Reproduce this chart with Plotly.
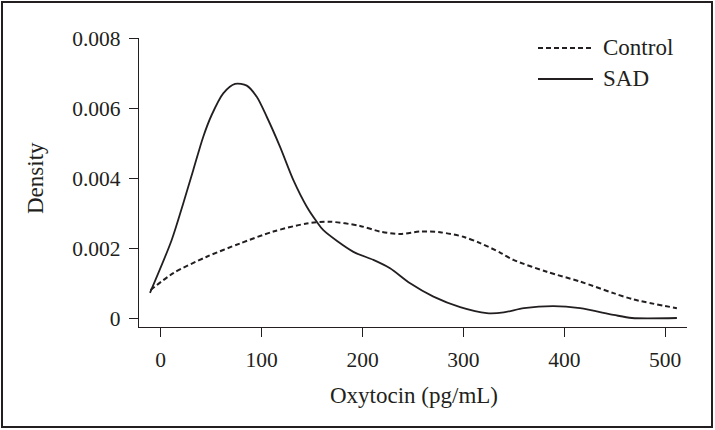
import plotly.graph_objects as go

# ---- data ----
sad_x = [-10.6, 10.9, 22.4, 32.3, 42.2, 50.5, 62.0, 73.7, 85.3, 95.2, 105.1, 118.3,
         131.5, 144.8, 154.7, 161.2, 191.0, 210.8, 227.3, 247.2, 270.3, 296.8,
         323.2, 340.0, 360.0, 389.3, 415.7, 448.8, 467.0, 511.6]
sad_y = [0.00072, 0.00223, 0.00328, 0.00423, 0.00518, 0.00580, 0.00642, 0.00669,
         0.00664, 0.00632, 0.00575, 0.00489, 0.00394, 0.00318, 0.00275, 0.00251,
         0.00189, 0.00166, 0.00142, 0.00099, 0.00061, 0.00031, 0.00014, 0.00016,
         0.00028, 0.00034, 0.00028, 0.00009, 0.0, 0.0]

ctrl_x = [-10.0, 12.5, 45.6, 78.6, 111.6, 144.8, 167.9, 197.6, 217.4, 237.3,
          257.1, 276.9, 300.0, 316.6, 336.4, 349.6, 382.7, 415.7, 448.8, 468.6, 511.6]
ctrl_y = [0.00080, 0.00128, 0.00175, 0.00213, 0.00247, 0.00270, 0.00275, 0.00263,
          0.00247, 0.00240, 0.00247, 0.00245, 0.00232, 0.00214, 0.00187, 0.00166,
          0.00132, 0.00104, 0.00071, 0.00053, 0.00028]

x_ticks = [0, 100, 200, 300, 400, 500]
y_ticks = [0, 0.002, 0.004, 0.006, 0.008]
y_tick_labels = ["0", "0.002", "0.004", "0.006", "0.008"]
series_names = ["Control", "SAD"]

# ---- layout geometry (pixels) ----
W, H = 715, 430
L, R, T, B = 139, 687, 38, 327
FONT = "Liberation Serif, Times New Roman, serif"
INK = "#231f20"
TXT = 23


def px(x):
    return (x - L) / (R - L)


def py(y):
    return (B - y) / (B - T)


fig = go.Figure()
fig.add_trace(go.Scatter(x=ctrl_x, y=ctrl_y, mode="lines", name=series_names[0],
                         line=dict(color=INK, width=2, dash="5px,3px", shape="spline",
                                   smoothing=0.8),
                         showlegend=False))
fig.add_trace(go.Scatter(x=sad_x, y=sad_y, mode="lines", name=series_names[1],
                         line=dict(color=INK, width=1.8, shape="spline", smoothing=0.8),
                         showlegend=False))

fig.update_layout(
    width=W, height=H,
    margin=dict(l=L, r=W - R, t=T, b=H - B, pad=0),
    paper_bgcolor="white", plot_bgcolor="white",
    font=dict(family=FONT, size=21, color=INK),
    xaxis=dict(range=[-21.5, 521.6], tickvals=x_ticks, ticktext=[str(v) for v in x_ticks],
               showgrid=False, zeroline=False, showline=True, linecolor=INK, linewidth=1.3,
               ticks="outside", ticklen=9, tickwidth=1.3, tickcolor=INK,
               ticklabelstandoff=4, fixedrange=True, tickfont=dict(size=21.5)),
    yaxis=dict(range=[-0.000257, 0.008], tickvals=y_ticks, ticktext=y_tick_labels,
               showgrid=False, zeroline=False, showline=True, linecolor=INK, linewidth=1.3,
               ticks="outside", ticklen=9, tickwidth=1.3, tickcolor=INK,
               ticklabelstandoff=4, fixedrange=True, tickfont=dict(size=21.5)),
)

# axis titles
fig.add_annotation(text="Density", xref="paper", yref="paper", x=px(35), y=py(178),
                   textangle=-90, showarrow=False, xanchor="center", yanchor="middle",
                   font=dict(size=TXT))
fig.add_annotation(text="Oxytocin (pg/mL)", xref="paper", yref="paper", x=px(414), y=py(395),
                   showarrow=False, xanchor="center", yanchor="middle", font=dict(size=TXT))

# manual legend
fig.add_shape(type="line", xref="paper", yref="paper", x0=px(538), x1=px(593), y0=py(48), y1=py(48),
              line=dict(color=INK, width=2, dash="5px,3px"))
fig.add_shape(type="line", xref="paper", yref="paper", x0=px(538), x1=px(593), y0=py(79), y1=py(79),
              line=dict(color=INK, width=1.8))
fig.add_annotation(text=series_names[0], xref="paper", yref="paper", x=px(601), y=py(48),
                   showarrow=False, xanchor="left", yanchor="middle", font=dict(size=TXT))
fig.add_annotation(text=series_names[1], xref="paper", yref="paper", x=px(601), y=py(79),
                   showarrow=False, xanchor="left", yanchor="middle", font=dict(size=TXT))

# outer frame
fig.add_shape(type="rect", xref="paper", yref="paper", x0=px(2), x1=px(712), y0=py(2), y1=py(427),
              line=dict(color=INK, width=2), layer="above")

fig.write_html("out.html", config={"displayModeBar": False},
               post_script="document.body.style.margin='0';")
